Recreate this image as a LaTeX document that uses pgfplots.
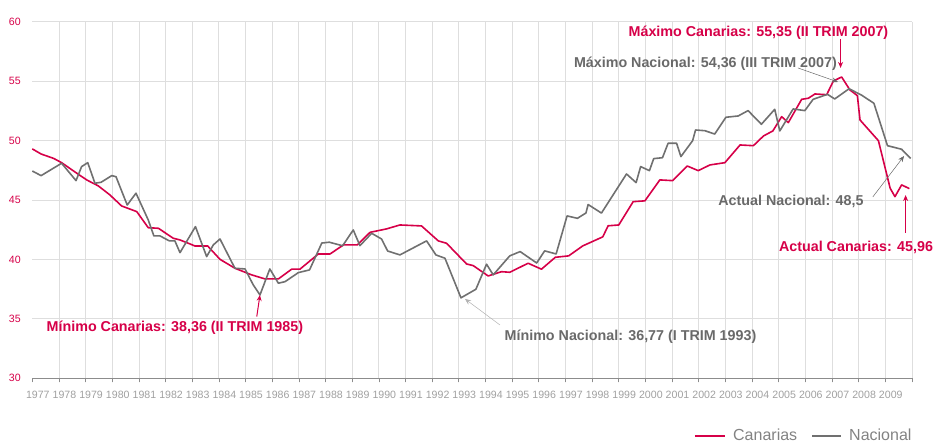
\documentclass[border=0pt]{standalone}
\usepackage{fontspec}
\setmainfont{Liberation Sans}
\usepackage{pgfplots}
\pgfplotsset{compat=1.18}
\usetikzlibrary{arrows.meta}
\definecolor{canred}{RGB}{214,0,72}
\definecolor{nacgray}{RGB}{112,112,112}
\definecolor{txtgray}{RGB}{105,105,105}
\definecolor{tickgray}{RGB}{160,160,160}
\definecolor{gridgray}{RGB}{222,222,222}
\definecolor{leggray}{RGB}{130,130,130}
\begin{document}
\begin{tikzpicture}
\useasboundingbox (0,0) rectangle (933pt,442pt);
\begin{axis}[
  at={(32.3pt,63.7pt)}, anchor=south west,
  scale only axis, width=879.7pt, height=356.6pt,
  xmin=1977, xmax=2010, ymin=30, ymax=60,
  clip=false,
  axis x line*=bottom, axis y line*=left,
  x axis line style={draw={rgb,255:red,140;green,140;blue,140}, line width=0.8pt, -},
  y axis line style={draw=none},
  xtick={1977,...,2009},
  extra x ticks={1978,...,2010},
  extra x tick labels={},
  extra x tick style={grid=major},
  ytick={30,35,...,60},
  ymajorgrids,
  grid style={gridgray, line width=0.8pt},
  tick align=outside,
  x tick style={draw={rgb,255:red,140;green,140;blue,140}, line width=0.6pt},
  major tick length=4pt,
  y tick style={draw=none},
  /pgf/number format/1000 sep={},
  /pgf/number format/assume math mode=true,
  xticklabel style={font=\fontsize{10.6}{12}\selectfont, text=tickgray, xshift=5.5pt, yshift=-5pt},
  yticklabel style={font=\fontsize{10.6}{12}\selectfont, text=canred, xshift=-4pt},
]
\addplot[canred, line width=1.6pt, line join=round] coordinates {
(1977.00,49.30) (1977.33,48.87) (1977.80,48.50) (1978.10,48.14) (1978.67,47.25)
(1979.04,46.69) (1979.48,46.18) (1979.91,45.43) (1980.35,44.50) (1980.92,44.02)
(1981.35,42.67) (1981.73,42.62) (1982.29,41.78) (1982.54,41.64) (1982.92,41.30)
(1983.10,41.13) (1983.58,41.13) (1984.04,40.01) (1984.60,39.26) (1985.23,38.70)
(1985.73,38.36) (1986.23,38.36) (1986.73,39.18) (1987.04,39.18) (1987.73,40.46)
(1988.17,40.46) (1988.67,41.22) (1989.19,41.22) (1989.67,42.28) (1990.29,42.57)
(1990.79,42.90) (1991.60,42.82) (1992.23,41.56) (1992.54,41.36) (1993.29,39.62)
(1993.54,39.48) (1994.10,38.61) (1994.60,38.97) (1994.91,38.92) (1995.60,39.68)
(1996.10,39.18) (1996.62,40.18) (1997.12,40.30) (1997.65,41.14) (1998.40,41.90)
(1998.60,42.83) (1999.00,42.90) (1999.54,44.86) (1999.98,44.93) (2000.54,46.69)
(2001.02,46.63) (2001.57,47.86) (2001.98,47.47) (2002.42,47.95) (2002.98,48.14)
(2003.55,49.63) (2004.05,49.57) (2004.43,50.39) (2004.78,50.81) (2005.11,52.01)
(2005.36,51.51) (2005.86,53.47) (2006.11,53.56) (2006.36,53.92) (2006.80,53.86)
(2007.05,55.01) (2007.36,55.35) (2007.67,54.26) (2007.95,53.78) (2008.05,51.73)
(2008.74,49.99) (2009.18,45.99) (2009.36,45.28) (2009.61,46.27) (2009.90,45.96)
};
\addplot[nacgray, line width=1.6pt, line join=round] coordinates {
(1977.00,47.44) (1977.33,47.05) (1978.10,48.09) (1978.64,46.63) (1978.85,47.81)
(1979.08,48.14) (1979.35,46.41) (1979.58,46.49) (1979.98,47.05) (1980.14,46.96)
(1980.56,44.58) (1980.89,45.57) (1981.35,43.32) (1981.56,41.98) (1981.79,41.98)
(1982.14,41.56) (1982.35,41.56) (1982.54,40.57) (1983.12,42.76) (1983.54,40.24)
(1983.79,41.22) (1984.04,41.72) (1984.60,39.26) (1984.98,39.20) (1985.29,37.85)
(1985.54,37.01) (1985.91,39.20) (1986.23,38.00) (1986.48,38.13) (1986.98,38.89)
(1987.40,39.12) (1987.86,41.38) (1988.14,41.45) (1988.64,41.15) (1989.04,42.48)
(1989.29,41.16) (1989.73,42.20) (1990.10,41.72) (1990.33,40.71) (1990.79,40.38)
(1991.79,41.56) (1992.14,40.38) (1992.48,40.10) (1993.08,36.77) (1993.64,37.49)
(1994.04,39.60) (1994.29,38.70) (1994.91,40.30) (1995.30,40.66) (1995.92,39.70)
(1996.22,40.72) (1996.65,40.46) (1997.06,43.66) (1997.45,43.46) (1997.77,43.91)
(1997.85,44.62) (1998.35,43.90) (1999.29,47.19) (1999.65,46.46) (1999.82,47.81)
(2000.15,47.47) (2000.31,48.48) (2000.64,48.56) (2000.85,49.77) (2001.17,49.77)
(2001.33,48.65) (2001.77,49.99) (2001.88,50.89) (2002.23,50.83) (2002.60,50.55)
(2003.02,51.96) (2003.48,52.07) (2003.85,52.52) (2004.35,51.37) (2004.85,52.63)
(2005.04,50.81) (2005.54,52.66) (2005.98,52.52) (2006.29,53.47) (2006.83,53.89)
(2007.10,53.50) (2007.64,54.36) (2008.10,53.83) (2008.57,53.14) (2009.08,49.57)
(2009.61,49.27) (2009.95,48.50)
};
% legend
\draw[canred, line width=1.6pt] (rel axis cs:0.7533,-0.1618) -- (rel axis cs:0.7874,-0.1618);
\node[anchor=base west, inner sep=0pt, font=\fontsize{16}{18}\selectfont, text=leggray] at (rel axis cs:0.7965,-0.1745) {Canarias};
\draw[nacgray, line width=1.6pt] (rel axis cs:0.8864,-0.1618) -- (rel axis cs:0.9193,-0.1618);
\node[anchor=base west, inner sep=0pt, font=\fontsize{16}{18}\selectfont, text=leggray] at (rel axis cs:0.9284,-0.1745) {Nacional};
% annotations
\node[font=\fontsize{14.3}{16}\selectfont\bfseries, text=canred] at (axis cs:1982.35,34.24) {Mínimo Canarias: 38,36 (II TRIM 1985)};
\draw[canred, line width=1pt, -{Stealth[length=6pt,width=5pt]}] (axis cs:1985.42,35.19) -- (axis cs:1985.54,37.01);
\node[font=\fontsize{14.3}{16}\selectfont\bfseries, text=txtgray] at (axis cs:1999.44,33.48) {Mínimo Nacional: 36,77 (I TRIM 1993)};
\draw[gray!60, line width=0.5pt, -{Stealth[length=6pt,width=5pt]}] (axis cs:1994.54,34.49) -- (axis cs:1993.23,36.68);
\node[font=\fontsize{14.3}{16}\selectfont\bfseries, text=canred] at (axis cs:2004.24,59.05) {Máximo Canarias: 55,35 (II TRIM 2007)};
\draw[canred, line width=1pt, -{Stealth[length=6pt,width=5pt]}] (axis cs:2007.32,58.54) -- (axis cs:2007.32,56.11);
\node[font=\fontsize{14.3}{16}\selectfont\bfseries, text=txtgray] at (axis cs:2002.25,56.44) {Máximo Nacional: 54,36 (III TRIM 2007)};
\draw[txtgray, line width=0.5pt, -{Stealth[length=6pt,width=5pt]}] (axis cs:2005.72,56.11) -- (axis cs:2007.22,54.93);
\node[font=\fontsize{14.3}{16}\selectfont\bfseries, text=txtgray] at (axis cs:2005.46,44.84) {Actual Nacional: 48,5};
\draw[txtgray, line width=0.5pt, -{Stealth[length=6pt,width=5pt]}] (axis cs:2008.53,45.26) -- (axis cs:2009.70,48.70);
\node[font=\fontsize{14.3}{16}\selectfont\bfseries, text=canred] at (axis cs:2007.90,40.97) {Actual Canarias: 45,96};
\draw[canred, line width=1pt, -{Stealth[length=6pt,width=5pt]}] (axis cs:2009.76,42.23) -- (axis cs:2009.76,45.42);
\end{axis}
\end{tikzpicture}
\end{document}
